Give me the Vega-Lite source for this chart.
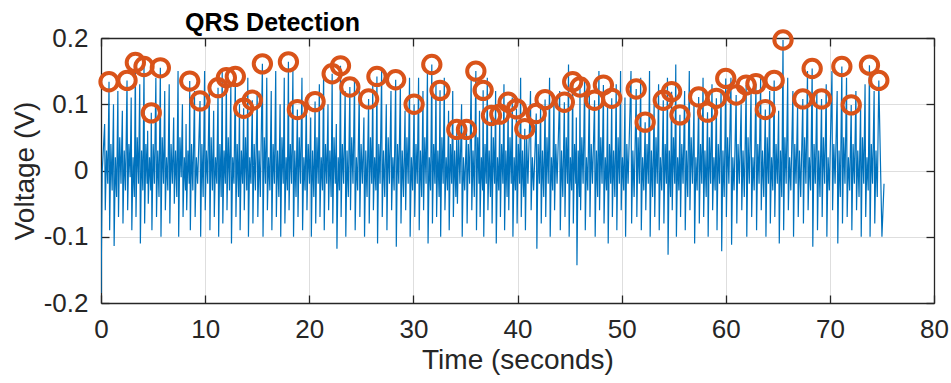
{
"$schema": "https://vega.github.io/schema/vega-lite/v6.json",
"width": 833, "height": 265,
"autosize": {"type": "none"},
"padding": {"left": 101, "top": 38, "right": 17, "bottom": 80},
"background": "white",
"title": {"text": "QRS Detection", "anchor": "start", "frame": "group", "dx": 84, "fontSize": 25, "fontWeight": "bold", "font": "Liberation Sans", "color": "#000000", "offset": -13},
"datasets": {
"ecg": [
{"t":0,"v":-0.185},{"t":0.12,"v":0.0},{"t":0.22,"v":0.03},
{"t":0.35,"v":0.07},{"t":0.41,"v":-0.06},{"t":0.53,"v":0.03},{"t":0.65,"v":-0.02},
{"t":0.77,"v":0.134},{"t":0.83,"v":-0.09},{"t":0.95,"v":0.04},{"t":1.07,"v":-0.03},
{"t":1.2,"v":0.10},{"t":1.26,"v":-0.114},{"t":1.38,"v":0.02},{"t":1.5,"v":-0.04},
{"t":1.62,"v":0.12},{"t":1.68,"v":-0.07},{"t":1.8,"v":0.05},{"t":1.92,"v":-0.02},
{"t":2.05,"v":0.09},{"t":2.11,"v":-0.08},{"t":2.23,"v":0.03},{"t":2.35,"v":-0.03},
{"t":2.5,"v":0.136},{"t":2.56,"v":-0.06},{"t":2.68,"v":0.04},{"t":2.8,"v":-0.01},
{"t":2.9,"v":0.11},{"t":2.96,"v":-0.09},{"t":3.08,"v":0.02},{"t":3.2,"v":-0.04},
{"t":3.3,"v":0.163},{"t":3.36,"v":-0.07},{"t":3.48,"v":0.05},{"t":3.6,"v":-0.02},
{"t":3.72,"v":0.13},{"t":3.78,"v":-0.11},{"t":3.9,"v":0.03},{"t":4.02,"v":-0.03},
{"t":4.13,"v":0.157},{"t":4.19,"v":-0.08},{"t":4.31,"v":0.04},{"t":4.43,"v":-0.02},
{"t":4.48,"v":0.06},{"t":4.54,"v":-0.05},{"t":4.66,"v":0.02},{"t":4.78,"v":-0.03},
{"t":4.83,"v":0.087},{"t":4.89,"v":-0.09},{"t":5.01,"v":0.04},{"t":5.13,"v":-0.02},
{"t":5.27,"v":0.14},{"t":5.33,"v":-0.07},{"t":5.45,"v":0.03},{"t":5.57,"v":-0.04},
{"t":5.7,"v":0.155},{"t":5.76,"v":-0.1},{"t":5.88,"v":0.05},{"t":6.0,"v":-0.02},
{"t":6.12,"v":0.12},{"t":6.18,"v":-0.06},{"t":6.3,"v":0.02},{"t":6.42,"v":-0.03},
{"t":6.55,"v":0.13},{"t":6.61,"v":-0.08},{"t":6.73,"v":0.04},{"t":6.85,"v":-0.02},
{"t":6.98,"v":0.08},{"t":7.04,"v":-0.05},{"t":7.16,"v":0.03},{"t":7.28,"v":-0.04},
{"t":7.4,"v":0.15},{"t":7.46,"v":-0.1},{"t":7.58,"v":0.05},{"t":7.7,"v":-0.01},
{"t":7.82,"v":0.10},{"t":7.88,"v":-0.07},{"t":8.0,"v":0.02},{"t":8.12,"v":-0.03},
{"t":8.17,"v":0.07},{"t":8.23,"v":-0.06},{"t":8.35,"v":0.03},{"t":8.47,"v":-0.02},
{"t":8.52,"v":0.135},{"t":8.58,"v":-0.09},{"t":8.7,"v":0.04},{"t":8.82,"v":-0.03},
{"t":8.98,"v":0.12},{"t":9.04,"v":-0.07},{"t":9.16,"v":0.02},{"t":9.28,"v":-0.02},
{"t":9.51,"v":0.105},{"t":9.57,"v":-0.1},{"t":9.69,"v":0.04},{"t":9.81,"v":-0.04},
{"t":9.95,"v":0.15},{"t":10.01,"v":-0.06},{"t":10.13,"v":0.03},{"t":10.25,"v":-0.02},
{"t":10.4,"v":0.13},{"t":10.46,"v":-0.09},{"t":10.58,"v":0.05},{"t":10.7,"v":-0.03},
{"t":10.82,"v":0.09},{"t":10.88,"v":-0.07},{"t":11.0,"v":0.02},{"t":11.12,"v":-0.02},
{"t":11.24,"v":0.125},{"t":11.3,"v":-0.1},{"t":11.42,"v":0.04},{"t":11.54,"v":-0.04},
{"t":11.64,"v":0.15},{"t":11.7,"v":-0.08},{"t":11.82,"v":0.03},{"t":11.94,"v":-0.02},
{"t":12.04,"v":0.14},{"t":12.1,"v":-0.06},{"t":12.22,"v":0.05},{"t":12.34,"v":-0.03},
{"t":12.47,"v":0.13},{"t":12.53,"v":-0.11},{"t":12.65,"v":0.02},{"t":12.77,"v":-0.02},
{"t":12.9,"v":0.142},{"t":12.96,"v":-0.07},{"t":13.08,"v":0.04},{"t":13.2,"v":-0.04},
{"t":13.3,"v":0.10},{"t":13.36,"v":-0.09},{"t":13.48,"v":0.03},{"t":13.6,"v":-0.02},
{"t":13.7,"v":0.094},{"t":13.76,"v":-0.06},{"t":13.88,"v":0.05},{"t":14.0,"v":-0.03},
{"t":14.1,"v":0.14},{"t":14.16,"v":-0.1},{"t":14.28,"v":0.02},{"t":14.4,"v":-0.02},
{"t":14.53,"v":0.106},{"t":14.59,"v":-0.08},{"t":14.71,"v":0.04},{"t":14.83,"v":-0.03},
{"t":15.0,"v":0.12},{"t":15.06,"v":-0.07},{"t":15.18,"v":0.03},{"t":15.3,"v":-0.04},
{"t":15.5,"v":0.161},{"t":15.56,"v":-0.1},{"t":15.68,"v":0.05},{"t":15.8,"v":-0.02},
{"t":15.92,"v":0.14},{"t":15.98,"v":-0.06},{"t":16.1,"v":0.02},{"t":16.22,"v":-0.03},
{"t":16.35,"v":0.12},{"t":16.41,"v":-0.09},{"t":16.53,"v":0.04},{"t":16.65,"v":-0.02},
{"t":16.78,"v":0.15},{"t":16.84,"v":-0.07},{"t":16.96,"v":0.03},{"t":17.08,"v":-0.04},
{"t":17.2,"v":0.10},{"t":17.26,"v":-0.1},{"t":17.38,"v":0.05},{"t":17.5,"v":-0.02},
{"t":17.6,"v":0.14},{"t":17.66,"v":-0.08},{"t":17.78,"v":0.02},{"t":17.9,"v":-0.03},
{"t":18.0,"v":0.164},{"t":18.06,"v":-0.06},{"t":18.18,"v":0.04},{"t":18.3,"v":-0.02},
{"t":18.43,"v":0.15},{"t":18.49,"v":-0.1},{"t":18.61,"v":0.03},{"t":18.73,"v":-0.04},
{"t":18.86,"v":0.092},{"t":18.92,"v":-0.07},{"t":19.04,"v":0.05},{"t":19.16,"v":-0.02},
{"t":19.3,"v":0.14},{"t":19.36,"v":-0.09},{"t":19.48,"v":0.02},{"t":19.6,"v":-0.03},
{"t":19.72,"v":0.11},{"t":19.78,"v":-0.06},{"t":19.9,"v":0.04},{"t":20.02,"v":-0.02},
{"t":20.14,"v":0.08},{"t":20.2,"v":-0.1},{"t":20.32,"v":0.03},{"t":20.44,"v":-0.04},
{"t":20.56,"v":0.104},{"t":20.62,"v":-0.08},{"t":20.74,"v":0.05},{"t":20.86,"v":-0.02},
{"t":20.97,"v":0.13},{"t":21.03,"v":-0.07},{"t":21.15,"v":0.02},{"t":21.27,"v":-0.03},
{"t":21.38,"v":0.15},{"t":21.44,"v":-0.09},{"t":21.56,"v":0.04},{"t":21.68,"v":-0.02},
{"t":21.8,"v":0.10},{"t":21.86,"v":-0.06},{"t":21.98,"v":0.03},{"t":22.1,"v":-0.04},
{"t":22.2,"v":0.146},{"t":22.26,"v":-0.08},{"t":22.38,"v":0.05},{"t":22.5,"v":-0.02},
{"t":22.6,"v":0.07},{"t":22.66,"v":-0.118},{"t":22.78,"v":0.02},{"t":22.9,"v":-0.03},
{"t":23.0,"v":0.158},{"t":23.06,"v":-0.07},{"t":23.18,"v":0.04},{"t":23.3,"v":-0.02},
{"t":23.45,"v":0.12},{"t":23.51,"v":-0.1},{"t":23.63,"v":0.03},{"t":23.75,"v":-0.04},
{"t":23.9,"v":0.126},{"t":23.96,"v":-0.06},{"t":24.08,"v":0.05},{"t":24.2,"v":-0.02},
{"t":24.35,"v":0.14},{"t":24.41,"v":-0.09},{"t":24.53,"v":0.02},{"t":24.65,"v":-0.03},
{"t":24.8,"v":0.12},{"t":24.86,"v":-0.07},{"t":24.98,"v":0.04},{"t":25.1,"v":-0.02},
{"t":25.25,"v":0.08},{"t":25.31,"v":-0.1},{"t":25.43,"v":0.03},{"t":25.55,"v":-0.04},
{"t":25.7,"v":0.108},{"t":25.76,"v":-0.08},{"t":25.88,"v":0.05},{"t":26.0,"v":-0.02},
{"t":26.1,"v":0.13},{"t":26.16,"v":-0.06},{"t":26.28,"v":0.02},{"t":26.4,"v":-0.03},
{"t":26.5,"v":0.142},{"t":26.56,"v":-0.11},{"t":26.68,"v":0.04},{"t":26.8,"v":-0.02},
{"t":26.95,"v":0.15},{"t":27.01,"v":-0.07},{"t":27.13,"v":0.03},{"t":27.25,"v":-0.04},
{"t":27.4,"v":0.10},{"t":27.46,"v":-0.09},{"t":27.58,"v":0.05},{"t":27.7,"v":-0.02},
{"t":27.85,"v":0.12},{"t":27.91,"v":-0.06},{"t":28.03,"v":0.02},{"t":28.15,"v":-0.03},
{"t":28.3,"v":0.137},{"t":28.36,"v":-0.115},{"t":28.48,"v":0.04},{"t":28.6,"v":-0.02},
{"t":28.75,"v":0.13},{"t":28.81,"v":-0.08},{"t":28.93,"v":0.03},{"t":29.05,"v":-0.04},
{"t":29.2,"v":0.09},{"t":29.26,"v":-0.06},{"t":29.38,"v":0.05},{"t":29.5,"v":-0.02},
{"t":29.63,"v":0.14},{"t":29.69,"v":-0.1},{"t":29.81,"v":0.02},{"t":29.93,"v":-0.03},
{"t":30.07,"v":0.10},{"t":30.13,"v":-0.07},{"t":30.25,"v":0.04},{"t":30.37,"v":-0.02},
{"t":30.5,"v":0.14},{"t":30.56,"v":-0.09},{"t":30.68,"v":0.03},{"t":30.8,"v":-0.04},
{"t":30.92,"v":0.12},{"t":30.98,"v":-0.06},{"t":31.1,"v":0.05},{"t":31.22,"v":-0.02},
{"t":31.35,"v":0.15},{"t":31.41,"v":-0.11},{"t":31.53,"v":0.02},{"t":31.65,"v":-0.03},
{"t":31.77,"v":0.16},{"t":31.83,"v":-0.08},{"t":31.95,"v":0.04},{"t":32.07,"v":-0.02},
{"t":32.17,"v":0.13},{"t":32.23,"v":-0.07},{"t":32.35,"v":0.03},{"t":32.47,"v":-0.04},
{"t":32.56,"v":0.121},{"t":32.62,"v":-0.1},{"t":32.74,"v":0.05},{"t":32.86,"v":-0.02},
{"t":32.97,"v":0.14},{"t":33.03,"v":-0.06},{"t":33.15,"v":0.02},{"t":33.27,"v":-0.03},
{"t":33.38,"v":0.09},{"t":33.44,"v":-0.09},{"t":33.56,"v":0.04},{"t":33.68,"v":-0.02},
{"t":33.78,"v":0.12},{"t":33.84,"v":-0.07},{"t":33.96,"v":0.03},{"t":34.08,"v":-0.04},
{"t":34.17,"v":0.062},{"t":34.23,"v":-0.05},{"t":34.35,"v":0.05},{"t":34.47,"v":-0.02},
{"t":34.63,"v":0.10},{"t":34.69,"v":-0.1},{"t":34.81,"v":0.02},{"t":34.93,"v":-0.03},
{"t":35.1,"v":0.062},{"t":35.16,"v":-0.08},{"t":35.28,"v":0.04},{"t":35.4,"v":-0.02},
{"t":35.55,"v":0.14},{"t":35.61,"v":-0.06},{"t":35.73,"v":0.03},{"t":35.85,"v":-0.04},
{"t":36.0,"v":0.15},{"t":36.06,"v":-0.09},{"t":36.18,"v":0.05},{"t":36.3,"v":-0.02},
{"t":36.35,"v":0.09},{"t":36.41,"v":-0.07},{"t":36.53,"v":0.02},{"t":36.65,"v":-0.03},
{"t":36.7,"v":0.121},{"t":36.76,"v":-0.1},{"t":36.88,"v":0.04},{"t":37.0,"v":-0.02},
{"t":37.1,"v":0.14},{"t":37.16,"v":-0.06},{"t":37.28,"v":0.03},{"t":37.4,"v":-0.04},
{"t":37.5,"v":0.083},{"t":37.56,"v":-0.08},{"t":37.68,"v":0.05},{"t":37.8,"v":-0.02},
{"t":37.9,"v":0.12},{"t":37.96,"v":-0.11},{"t":38.08,"v":0.02},{"t":38.2,"v":-0.03},
{"t":38.3,"v":0.085},{"t":38.36,"v":-0.07},{"t":38.48,"v":0.04},{"t":38.6,"v":-0.02},
{"t":38.7,"v":0.13},{"t":38.76,"v":-0.09},{"t":38.88,"v":0.03},{"t":39.0,"v":-0.04},
{"t":39.1,"v":0.103},{"t":39.16,"v":-0.06},{"t":39.28,"v":0.05},{"t":39.4,"v":-0.02},
{"t":39.5,"v":0.11},{"t":39.56,"v":-0.1},{"t":39.68,"v":0.02},{"t":39.8,"v":-0.03},
{"t":39.9,"v":0.093},{"t":39.96,"v":-0.08},{"t":40.08,"v":0.04},{"t":40.2,"v":-0.02},
{"t":40.3,"v":0.14},{"t":40.36,"v":-0.07},{"t":40.48,"v":0.03},{"t":40.6,"v":-0.04},
{"t":40.7,"v":0.063},{"t":40.76,"v":-0.09},{"t":40.88,"v":0.05},{"t":41.0,"v":-0.02},
{"t":41.25,"v":0.12},{"t":41.31,"v":-0.06},{"t":41.43,"v":0.02},{"t":41.55,"v":-0.03},
{"t":41.8,"v":0.086},{"t":41.86,"v":-0.118},{"t":41.98,"v":0.04},{"t":42.1,"v":-0.02},
{"t":42.22,"v":0.10},{"t":42.28,"v":-0.08},{"t":42.4,"v":0.03},{"t":42.52,"v":-0.04},
{"t":42.65,"v":0.107},{"t":42.71,"v":-0.07},{"t":42.83,"v":0.05},{"t":42.95,"v":-0.02},
{"t":43.08,"v":0.14},{"t":43.14,"v":-0.1},{"t":43.26,"v":0.02},{"t":43.38,"v":-0.03},
{"t":43.5,"v":0.11},{"t":43.56,"v":-0.06},{"t":43.68,"v":0.04},{"t":43.8,"v":-0.02},
{"t":44.05,"v":0.12},{"t":44.11,"v":-0.09},{"t":44.23,"v":0.03},{"t":44.35,"v":-0.04},
{"t":44.5,"v":0.103},{"t":44.56,"v":-0.07},{"t":44.68,"v":0.05},{"t":44.8,"v":-0.02},
{"t":44.9,"v":0.16},{"t":44.96,"v":-0.1},{"t":45.08,"v":0.02},{"t":45.2,"v":-0.03},
{"t":45.3,"v":0.134},{"t":45.36,"v":-0.08},{"t":45.48,"v":0.04},{"t":45.6,"v":-0.02},
{"t":45.65,"v":0.08},{"t":45.71,"v":-0.143},{"t":45.83,"v":0.03},{"t":45.95,"v":-0.04},
{"t":46.0,"v":0.126},{"t":46.06,"v":-0.06},{"t":46.18,"v":0.05},{"t":46.3,"v":-0.02},
{"t":46.45,"v":0.14},{"t":46.51,"v":-0.09},{"t":46.63,"v":0.02},{"t":46.75,"v":-0.03},
{"t":46.9,"v":0.12},{"t":46.96,"v":-0.07},{"t":47.08,"v":0.04},{"t":47.2,"v":-0.02},
{"t":47.4,"v":0.106},{"t":47.46,"v":-0.1},{"t":47.58,"v":0.03},{"t":47.7,"v":-0.04},
{"t":47.82,"v":0.15},{"t":47.88,"v":-0.06},{"t":48.0,"v":0.05},{"t":48.12,"v":-0.02},
{"t":48.25,"v":0.129},{"t":48.31,"v":-0.08},{"t":48.43,"v":0.02},{"t":48.55,"v":-0.03},
{"t":48.65,"v":0.10},{"t":48.71,"v":-0.11},{"t":48.83,"v":0.04},{"t":48.95,"v":-0.02},
{"t":49.05,"v":0.109},{"t":49.11,"v":-0.07},{"t":49.23,"v":0.03},{"t":49.35,"v":-0.04},
{"t":49.48,"v":0.13},{"t":49.54,"v":-0.09},{"t":49.66,"v":0.05},{"t":49.78,"v":-0.02},
{"t":49.9,"v":0.15},{"t":49.96,"v":-0.06},{"t":50.08,"v":0.02},{"t":50.2,"v":-0.03},
{"t":50.32,"v":0.11},{"t":50.38,"v":-0.1},{"t":50.5,"v":0.04},{"t":50.62,"v":-0.02},
{"t":50.9,"v":0.15},{"t":50.96,"v":-0.08},{"t":51.08,"v":0.03},{"t":51.2,"v":-0.04},
{"t":51.4,"v":0.123},{"t":51.46,"v":-0.07},{"t":51.58,"v":0.05},{"t":51.7,"v":-0.02},
{"t":51.83,"v":0.14},{"t":51.89,"v":-0.09},{"t":52.01,"v":0.02},{"t":52.13,"v":-0.03},
{"t":52.26,"v":0.073},{"t":52.32,"v":-0.06},{"t":52.44,"v":0.04},{"t":52.56,"v":-0.02},
{"t":52.68,"v":0.15},{"t":52.74,"v":-0.1},{"t":52.86,"v":0.03},{"t":52.98,"v":-0.04},
{"t":53.12,"v":0.10},{"t":53.18,"v":-0.07},{"t":53.3,"v":0.05},{"t":53.42,"v":-0.02},
{"t":53.55,"v":0.13},{"t":53.61,"v":-0.09},{"t":53.73,"v":0.02},{"t":53.85,"v":-0.03},
{"t":54.0,"v":0.106},{"t":54.06,"v":-0.08},{"t":54.18,"v":0.04},{"t":54.3,"v":-0.02},
{"t":54.4,"v":0.14},{"t":54.46,"v":-0.127},{"t":54.58,"v":0.03},{"t":54.7,"v":-0.04},
{"t":54.8,"v":0.119},{"t":54.86,"v":-0.06},{"t":54.98,"v":0.05},{"t":55.1,"v":-0.02},
{"t":55.2,"v":0.16},{"t":55.26,"v":-0.1},{"t":55.38,"v":0.02},{"t":55.5,"v":-0.03},
{"t":55.6,"v":0.084},{"t":55.66,"v":-0.07},{"t":55.78,"v":0.04},{"t":55.9,"v":-0.02},
{"t":56.05,"v":0.12},{"t":56.11,"v":-0.09},{"t":56.23,"v":0.03},{"t":56.35,"v":-0.04},
{"t":56.5,"v":0.15},{"t":56.56,"v":-0.06},{"t":56.68,"v":0.05},{"t":56.8,"v":-0.02},
{"t":56.95,"v":0.10},{"t":57.01,"v":-0.11},{"t":57.13,"v":0.02},{"t":57.25,"v":-0.03},
{"t":57.4,"v":0.111},{"t":57.46,"v":-0.08},{"t":57.58,"v":0.04},{"t":57.7,"v":-0.02},
{"t":57.82,"v":0.14},{"t":57.88,"v":-0.07},{"t":58.0,"v":0.03},{"t":58.12,"v":-0.04},
{"t":58.25,"v":0.088},{"t":58.31,"v":-0.1},{"t":58.43,"v":0.05},{"t":58.55,"v":-0.02},
{"t":58.68,"v":0.13},{"t":58.74,"v":-0.06},{"t":58.86,"v":0.02},{"t":58.98,"v":-0.03},
{"t":59.1,"v":0.109},{"t":59.16,"v":-0.09},{"t":59.28,"v":0.04},{"t":59.4,"v":-0.02},
{"t":59.55,"v":0.12},{"t":59.61,"v":-0.122},{"t":59.73,"v":0.03},{"t":59.85,"v":-0.04},
{"t":60.0,"v":0.139},{"t":60.06,"v":-0.07},{"t":60.18,"v":0.05},{"t":60.3,"v":-0.02},
{"t":60.5,"v":0.14},{"t":60.56,"v":-0.112},{"t":60.68,"v":0.02},{"t":60.8,"v":-0.03},
{"t":61.0,"v":0.114},{"t":61.06,"v":-0.08},{"t":61.18,"v":0.04},{"t":61.3,"v":-0.02},
{"t":61.48,"v":0.10},{"t":61.54,"v":-0.06},{"t":61.66,"v":0.03},{"t":61.78,"v":-0.04},
{"t":61.96,"v":0.129},{"t":62.02,"v":-0.1},{"t":62.14,"v":0.05},{"t":62.26,"v":-0.02},
{"t":62.43,"v":0.12},{"t":62.49,"v":-0.07},{"t":62.61,"v":0.02},{"t":62.73,"v":-0.03},
{"t":62.9,"v":0.131},{"t":62.96,"v":-0.09},{"t":63.08,"v":0.04},{"t":63.2,"v":-0.02},
{"t":63.35,"v":0.14},{"t":63.41,"v":-0.06},{"t":63.53,"v":0.03},{"t":63.65,"v":-0.04},
{"t":63.8,"v":0.092},{"t":63.86,"v":-0.1},{"t":63.98,"v":0.05},{"t":64.1,"v":-0.02},
{"t":64.22,"v":0.12},{"t":64.28,"v":-0.08},{"t":64.4,"v":0.02},{"t":64.52,"v":-0.03},
{"t":64.65,"v":0.136},{"t":64.71,"v":-0.07},{"t":64.83,"v":0.04},{"t":64.95,"v":-0.02},
{"t":65.08,"v":0.09},{"t":65.14,"v":-0.11},{"t":65.26,"v":0.03},{"t":65.38,"v":-0.04},
{"t":65.5,"v":0.197},{"t":65.56,"v":-0.09},{"t":65.68,"v":0.05},{"t":65.8,"v":-0.02},
{"t":65.95,"v":0.14},{"t":66.01,"v":-0.06},{"t":66.13,"v":0.02},{"t":66.25,"v":-0.03},
{"t":66.45,"v":0.12},{"t":66.51,"v":-0.1},{"t":66.63,"v":0.04},{"t":66.75,"v":-0.02},
{"t":66.9,"v":0.10},{"t":66.96,"v":-0.07},{"t":67.08,"v":0.03},{"t":67.2,"v":-0.04},
{"t":67.4,"v":0.108},{"t":67.46,"v":-0.08},{"t":67.58,"v":0.05},{"t":67.7,"v":-0.02},
{"t":67.85,"v":0.15},{"t":67.91,"v":-0.06},{"t":68.03,"v":0.02},{"t":68.15,"v":-0.03},
{"t":68.3,"v":0.154},{"t":68.36,"v":-0.115},{"t":68.48,"v":0.04},{"t":68.6,"v":-0.02},
{"t":68.75,"v":0.12},{"t":68.81,"v":-0.09},{"t":68.93,"v":0.03},{"t":69.05,"v":-0.04},
{"t":69.2,"v":0.108},{"t":69.26,"v":-0.07},{"t":69.38,"v":0.05},{"t":69.5,"v":-0.02},
{"t":69.65,"v":0.13},{"t":69.71,"v":-0.1},{"t":69.83,"v":0.02},{"t":69.95,"v":-0.03},
{"t":70.2,"v":0.15},{"t":70.26,"v":-0.06},{"t":70.38,"v":0.04},{"t":70.5,"v":-0.02},
{"t":70.7,"v":0.12},{"t":70.76,"v":-0.11},{"t":70.88,"v":0.03},{"t":71.0,"v":-0.04},
{"t":71.15,"v":0.157},{"t":71.21,"v":-0.08},{"t":71.33,"v":0.05},{"t":71.45,"v":-0.02},
{"t":71.6,"v":0.14},{"t":71.66,"v":-0.07},{"t":71.78,"v":0.02},{"t":71.9,"v":-0.03},
{"t":72.05,"v":0.099},{"t":72.11,"v":-0.09},{"t":72.23,"v":0.04},{"t":72.35,"v":-0.02},
{"t":72.5,"v":0.12},{"t":72.56,"v":-0.06},{"t":72.68,"v":0.03},{"t":72.8,"v":-0.04},
{"t":72.95,"v":0.10},{"t":73.01,"v":-0.1},{"t":73.13,"v":0.05},{"t":73.25,"v":-0.02},
{"t":73.38,"v":0.13},{"t":73.44,"v":-0.07},{"t":73.56,"v":0.02},{"t":73.68,"v":-0.03},
{"t":73.8,"v":0.159},{"t":73.86,"v":-0.1},{"t":73.98,"v":0.04},{"t":74.1,"v":-0.02},
{"t":74.25,"v":0.12},{"t":74.31,"v":-0.08},{"t":74.43,"v":0.03},{"t":74.55,"v":-0.04},
{"t":74.7,"v":0.136},{"t":75.0,"v":-0.1},{"t":75.2,"v":-0.02}
],
"peaks": [
{"t":0.77,"v":0.134},{"t":2.5,"v":0.136},{"t":3.3,"v":0.163},{"t":4.13,"v":0.157},{"t":4.83,"v":0.087},{"t":5.7,"v":0.155},{"t":8.52,"v":0.135},{"t":9.51,"v":0.105},{"t":11.24,"v":0.125},{"t":12.04,"v":0.14},{"t":12.9,"v":0.142},{"t":13.7,"v":0.094},{"t":14.53,"v":0.106},{"t":15.5,"v":0.161},{"t":18.0,"v":0.164},{"t":18.86,"v":0.092},{"t":20.56,"v":0.104},{"t":22.2,"v":0.146},{"t":23.0,"v":0.158},{"t":23.9,"v":0.126},{"t":25.7,"v":0.108},{"t":26.5,"v":0.142},{"t":28.3,"v":0.137},{"t":30.07,"v":0.1},{"t":31.77,"v":0.16},{"t":32.56,"v":0.121},{"t":34.17,"v":0.062},{"t":35.1,"v":0.062},{"t":36.0,"v":0.15},{"t":36.7,"v":0.121},{"t":37.5,"v":0.083},{"t":38.3,"v":0.085},{"t":39.1,"v":0.103},{"t":39.9,"v":0.093},{"t":40.7,"v":0.063},{"t":41.8,"v":0.086},{"t":42.65,"v":0.107},{"t":44.5,"v":0.103},{"t":45.3,"v":0.134},{"t":46.0,"v":0.126},{"t":47.4,"v":0.106},{"t":48.25,"v":0.129},{"t":49.05,"v":0.109},{"t":51.4,"v":0.123},{"t":52.26,"v":0.073},{"t":54.0,"v":0.106},{"t":54.8,"v":0.119},{"t":55.6,"v":0.084},{"t":57.4,"v":0.111},{"t":58.25,"v":0.088},{"t":59.1,"v":0.109},{"t":60.0,"v":0.139},{"t":61.0,"v":0.114},{"t":61.96,"v":0.129},{"t":62.9,"v":0.131},{"t":63.8,"v":0.092},{"t":64.65,"v":0.136},{"t":65.5,"v":0.197},{"t":67.4,"v":0.108},{"t":68.3,"v":0.154},{"t":69.2,"v":0.108},{"t":71.15,"v":0.157},{"t":72.05,"v":0.099},{"t":73.8,"v":0.159},{"t":74.7,"v":0.136}
]
},
"layer": [
{
"data": {"name": "ecg"},
"mark": {"type": "line", "color": "#0072BD", "strokeWidth": 1.2, "clip": true},
"encoding": {
"x": {"field": "t", "type": "quantitative", "scale": {"domain": [0, 80], "nice": false},
"axis": {"orient": "bottom", "values": [0,10,20,30,40,50,60,70,80], "grid": true, "gridColor": "#dedede", "gridWidth": 1, "domainColor": "#262626", "domainWidth": 1.3, "tickColor": "#262626", "tickWidth": 1.3, "tickSize": -8, "labelFontSize": 26, "labelFont": "Liberation Sans", "labelColor": "#262626", "labelPadding": 21, "labelFlush": false, "title": "Time (seconds)", "titleFont": "Liberation Sans", "titleFontSize": 28, "titleFontWeight": "normal", "titleColor": "#262626", "titlePadding": 4}},
"y": {"field": "v", "type": "quantitative", "scale": {"domain": [-0.2, 0.2], "nice": false},
"axis": {"orient": "left", "values": [-0.2,-0.1,0,0.1,0.2], "labelExpr": "datum.value < 0 ? '-' + format(-datum.value, '.1f') : (datum.value == 0 ? '0' : format(datum.value, '.1f'))", "grid": true, "gridColor": "#dedede", "gridWidth": 1, "domainColor": "#262626", "domainWidth": 1.3, "tickColor": "#262626", "tickWidth": 1.3, "tickSize": -8, "labelFontSize": 26, "labelFont": "Liberation Sans", "labelColor": "#262626", "labelPadding": 21, "labelFlush": false, "title": "Voltage (V)", "titleFont": "Liberation Sans", "titleFontSize": 28, "titleFontWeight": "normal", "titleColor": "#262626", "titlePadding": 4}}
}
},
{
"data": {"name": "peaks"},
"mark": {"type": "point", "filled": false, "color": "#D95319", "strokeWidth": 4, "size": 300, "opacity": 1},
"encoding": {
"x": {"field": "t", "type": "quantitative", "axis": {"orient": "top", "values": [0,10,20,30,40,50,60,70,80], "grid": false, "labels": false, "title": null, "domainColor": "#262626", "domainWidth": 1.3, "tickColor": "#262626", "tickWidth": 1.3, "tickSize": -8}},
"y": {"field": "v", "type": "quantitative", "axis": {"orient": "right", "values": [-0.2,-0.1,0,0.1,0.2], "grid": false, "labels": false, "title": null, "domainColor": "#262626", "domainWidth": 1.3, "tickColor": "#262626", "tickWidth": 1.3, "tickSize": -8}}
}
}
],
"resolve": {"axis": {"x": "independent", "y": "independent"}},
"config": {"view": {"stroke": null}}
}
